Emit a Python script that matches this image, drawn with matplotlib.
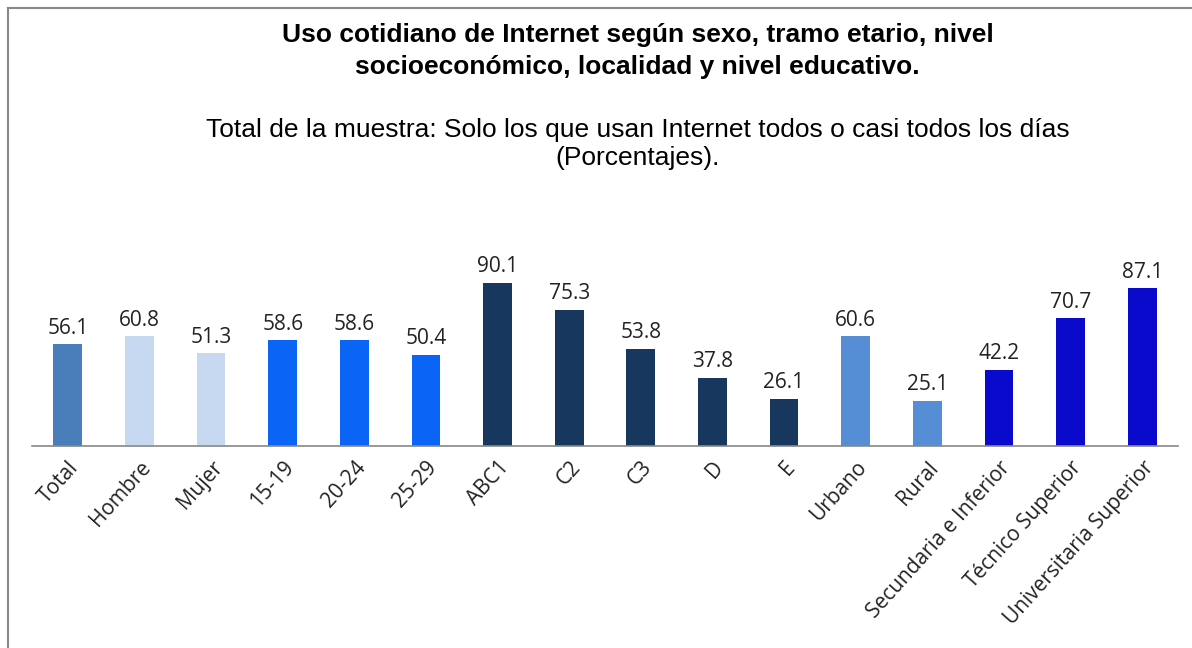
import matplotlib.pyplot as plt
from matplotlib.lines import Line2D

categorias = ['Total', 'Hombre', 'Mujer', '15-19', '20-24', '25-29', 'ABC1', 'C2', 'C3',
              'D', 'E', 'Urbano', 'Rural', 'Secundaria e Inferior', 'Técnico Superior',
              'Universitaria Superior']
valores = [56.1, 60.8, 51.3, 58.6, 58.6, 50.4, 90.1, 75.3, 53.8, 37.8, 26.1, 60.6, 25.1,
           42.2, 70.7, 87.1]
colores = ['#4a7ebb', '#c6d9f1', '#c6d9f1', '#0a64f5', '#0a64f5', '#0a64f5',
           '#17375e', '#17375e', '#17375e', '#17375e', '#17375e',
           '#558ed5', '#558ed5', '#0a0acd', '#0a0acd', '#0a0acd']

titulo = 'Uso cotidiano de Internet según sexo, tramo etario, nivel\nsocioeconómico, localidad y nivel educativo.'
subtitulo = 'Total de la muestra: Solo los que usan Internet todos o casi todos los días\n(Porcentajes).'

fig = plt.figure(figsize=(11.92, 6.48), dpi=100)
W, H = 1192, 648
# eje: linea base en y=446 px, x de 32 a 1178 px
ax = fig.add_axes([32 / W, (H - 446) / H, 1146 / W, 181 / H])
x = range(len(categorias))
ax.bar(x, valores, width=0.4, color=colores)
for i, v in zip(x, valores):
    ax.text(i, v + 3, f'{v:.1f}', ha='center', va='bottom', fontsize=15,
            family='Open Sans', color='#222222')
ax.set_xlim(-0.5, len(categorias) - 0.5)
ax.set_ylim(0, 100)
ax.set_xticks(list(x))
ax.set_xticklabels(categorias, rotation=48, ha='right', rotation_mode='anchor',
                   fontsize=15, family='Open Sans', color='#222222')
ax.tick_params(axis='x', length=0, pad=8)
ax.set_yticks([])
for s in ['top', 'right', 'left']:
    ax.spines[s].set_visible(False)
ax.spines['bottom'].set_color('#888888')
ax.spines['bottom'].set_linewidth(1.2)

fig.text(0.535, 1 - 51 / H, titulo, ha='center', va='center', fontsize=19,
         fontweight='bold', family='Liberation Sans', linespacing=1.4)
fig.text(0.535, 1 - 144 / H, subtitulo, ha='center', va='center', fontsize=19,
         family='Liberation Sans', linespacing=1.25)

# marco del grafico (solo borde izquierdo y superior visibles)
fig.add_artist(Line2D([8 / W, 8 / W], [0, 1 - 8 / H], color='#888888', lw=1.5))
fig.add_artist(Line2D([8 / W, 1], [1 - 8 / H, 1 - 8 / H], color='#888888', lw=1.5))

plt.savefig('out.png', dpi=100)
